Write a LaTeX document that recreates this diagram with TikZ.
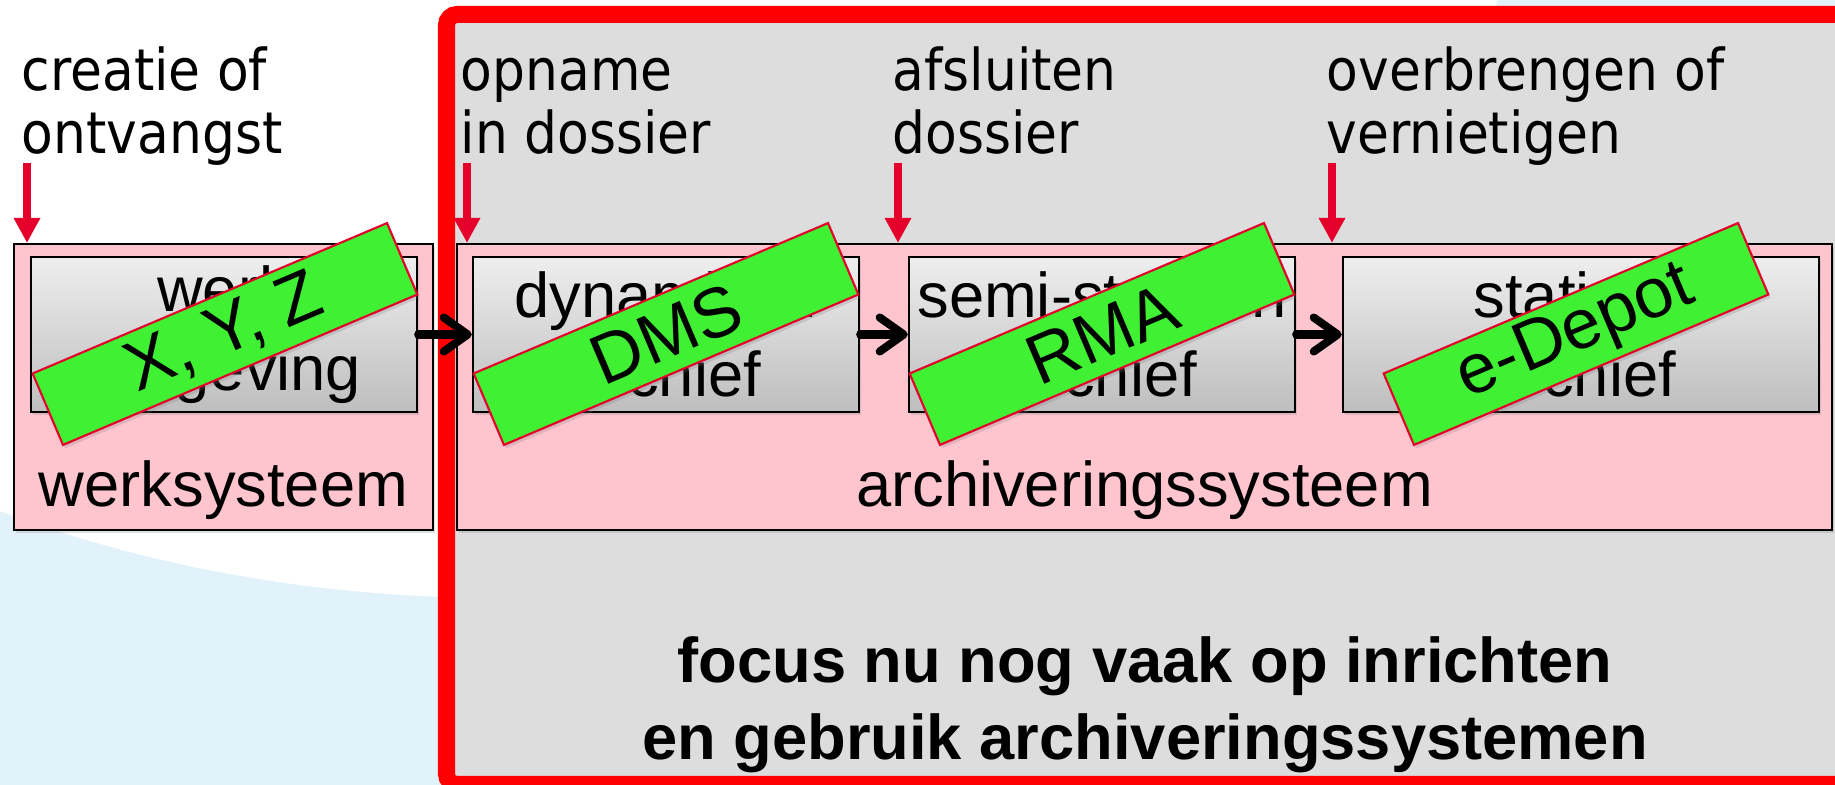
\documentclass[tikz,border=0pt]{standalone}
\usepackage{fontspec}
\setmainfont{Liberation Sans}
\newfontfamily\capfont[FakeStretch=0.9]{DejaVu Sans}
\usetikzlibrary{arrows.meta,shadows}
\definecolor{skyblue}{RGB}{226,242,250}
\definecolor{framegray}{RGB}{221,221,221}
\definecolor{framered}{RGB}{255,0,0}
\definecolor{arrowred}{RGB}{228,0,43}
\definecolor{syspink}{RGB}{255,197,206}
\definecolor{boxtop}{RGB}{238,238,238}
\definecolor{boxbot}{RGB}{190,190,190}
\definecolor{taggreen}{RGB}{64,240,51}
\tikzset{
	softshadow/.style={drop shadow={shadow xshift=0.02cm, shadow yshift=-0.035cm, opacity=0.25}},
	pinkbox/.style={draw=black, line width=0.6pt, fill=syspink, minimum width=#1, minimum height=2.86cm, inner sep=0pt, softshadow},
	graybox/.style={draw=black, line width=0.7pt, top color=boxtop, bottom color=boxbot, minimum width=#1, minimum height=1.55cm, inner sep=0pt, align=center, font=\fontsize{18}{22.5}\selectfont, softshadow},
	tagbox/.style={draw=arrowred, line width=0.6pt, fill=taggreen, rotate=23, minimum width=3.85cm, minimum height=0.776cm, inner sep=0pt, font=\fontsize{20}{24}\selectfont, softshadow},
	syslabel/.style={anchor=base, inner sep=0pt, font=\fontsize{18}{22}\selectfont},
	toplabel/.style={anchor=base west, inner sep=0pt, align=left, font=\capfont\fontsize{16.4}{18.2}\selectfont},
	redarrow/.style={draw=arrowred, line width=2.3pt, -{Triangle[length=0.25cm,width=0.25cm]}},
	flowarrow/.style={draw=black, line width=2.3pt, line cap=round, -{Straight Barb[length=0.24cm,width=0.34cm,round]}}
}

\begin{document}
\begin{tikzpicture}
		%%%%% START %%%%%
		\clip (0, 0) rectangle (18.35, 7.85);
		
		% background
		\fill[skyblue] (0, 0) rectangle (18.35, 7.85);
		\fill[white] (5, 8.37) ellipse (10 and 6.5);
		
		% focus frame
		\draw[line width=4.84pt, draw=framered, fill=framegray, rounded corners=3pt] (4.465, 0.005) rectangle (18.6, 7.705);
		
		% systems
		\node[pinkbox=4.19cm] (werksys) at (2.235, 3.98) {};
		\node[pinkbox=13.75cm] (archsys) at (11.445, 3.98) {};
		\node[syslabel] (lblwerk) at (2.235, 2.78) {werksysteem};
		\node[syslabel] (lblarch) at (11.445, 2.78) {archiveringssysteem};
		
		% stages
		\node[graybox=3.86cm] (werkomg) at (2.24, 4.505) {werk\\omgeving};
		\node[graybox=3.86cm] (dynarch) at (6.66, 4.505) {dynamisch\\archief};
		\node[graybox=3.86cm] (semiarch) at (11.02, 4.505) {semi-statisch\\archief};
		\node[graybox=4.76cm] (statarch) at (15.81, 4.505) {statisch\\archief};
		
		\draw[flowarrow] (werkomg.east) -- (dynarch.west);
		\draw[flowarrow] (dynarch.east) -- (semiarch.west);
		\draw[flowarrow] (semiarch.east) -- (statarch.west);
		
		% moments
		\node[toplabel] (lblcreatie) at (0.21, 6.31) {creatie of\\ontvangst};
		\node[toplabel] (lblopname) at (4.60, 6.31) {opname\\in dossier};
		\node[toplabel] (lblafsluiten) at (8.92, 6.31) {afsluiten\\dossier};
		\node[toplabel] (lbloverbrengen) at (13.26, 6.31) {overbrengen of\\vernietigen};
		
		\coordinate (pcreatie) at (0.27, 6.22);
		\coordinate (popname) at (4.67, 6.22);
		\coordinate (pafsluiten) at (8.98, 6.22);
		\coordinate (poverbrengen) at (13.32, 6.22);
		\draw[redarrow] (pcreatie) -- (pcreatie |- werksys.north);
		\draw[redarrow] (popname) -- (popname |- archsys.north);
		\draw[redarrow] (pafsluiten) -- (pafsluiten |- archsys.north);
		\draw[redarrow] (poverbrengen) -- (poverbrengen |- archsys.north);
		
		% tools
		\node[tagbox] (tagxyz) at (2.25, 4.51) {X, Y, Z};
		\node[tagbox] (tagdms) at (6.66, 4.51) {DMS};
		\node[tagbox] (tagrma) at (11.02, 4.51) {RMA};
		\node[tagbox] (tagdepot) at (15.76, 4.51) {e-Depot};
		
		\node[align=center, inner sep=0pt, font=\bfseries\fontsize{18}{21.9}\selectfont] (focus) at (11.45, 0.80) {focus nu nog vaak op inrichten\\en gebruik archiveringssystemen};
		%%%%% END %%%%%
\end{tikzpicture}
\end{document}
